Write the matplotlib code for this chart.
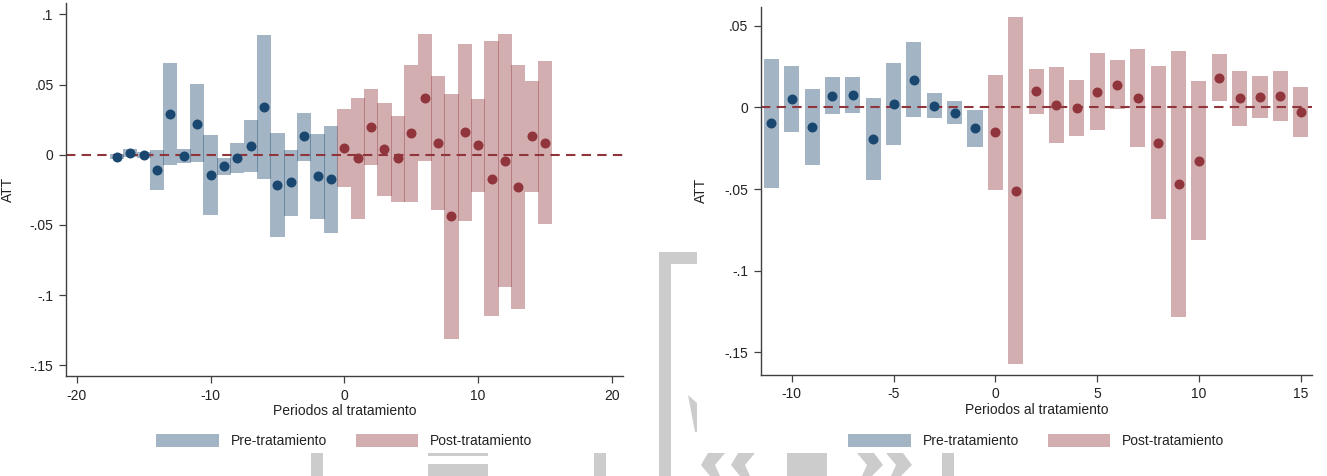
import matplotlib
matplotlib.use('Agg')
import matplotlib.pyplot as plt
from matplotlib.patches import Patch, Polygon, Rectangle

plt.rcParams['font.family'] = ['Liberation Sans', 'DejaVu Sans']
plt.rcParams['font.size'] = 10
plt.rcParams['axes.unicode_minus'] = False

NAVY = '#1a476f'
MAROON = '#90353b'
NAVY_FILL = '#a3b5c5'
MAROON_FILL = '#d3aeb1'
WATERMARK = '#cccccc'

# Panel A: all periods
a_pre_t = list(range(-17, 0))
a_pre_att = [-0.0014, 0.0014, 0.0000, -0.0107, 0.0293, -0.0007, 0.0222,
             -0.0142, -0.0083, -0.0024, 0.0064, 0.0343, -0.0215, -0.0197,
             0.0130, -0.0151, -0.0173]
a_pre_hi = [0.0005, 0.0040, 0.0020, 0.0035, 0.0656, 0.0040, 0.0502, 0.0137,
            -0.0020, 0.0080, 0.0244, 0.0854, 0.0154, 0.0035, 0.0296, 0.0147,
            0.0208]
a_pre_lo = [-0.0030, -0.0014, -0.0020, -0.0254, -0.0071, -0.0059, -0.0055,
            -0.0426, -0.0147, -0.0128, -0.0121, -0.0170, -0.0587, -0.0433,
            -0.0043, -0.0455, -0.0556]
a_post_t = list(range(0, 16))
a_post_att = [0.0050, -0.0026, 0.0194, 0.0038, -0.0026, 0.0154, 0.0407,
              0.0083, -0.0436, 0.0161, 0.0069, -0.0170, -0.0043, -0.0227,
              0.0133, 0.0087]
a_post_hi = [0.0327, 0.0403, 0.0467, 0.0367, 0.0279, 0.0639, 0.0857, 0.0559,
             0.0433, 0.0788, 0.0400, 0.0810, 0.0857, 0.0641, 0.0523, 0.0665]
a_post_lo = [-0.0232, -0.0457, -0.0076, -0.0291, -0.0336, -0.0336, -0.0045,
             -0.0396, -0.1313, -0.0469, -0.0265, -0.1151, -0.0944, -0.1099,
             -0.0263, -0.0490]
a_xticks = [-20, -10, 0, 10, 20]
a_yticks = [0.1, 0.05, 0, -0.05, -0.1, -0.15]
a_ylabels = ['.1', '.05', '0', '-.05', '-.1', '-.15']

# Panel B: restricted window
b_pre_t = list(range(-11, 0))
b_pre_att = [-0.0098, 0.0049, -0.0120, 0.0071, 0.0075, -0.0192, 0.0018,
             0.0167, 0.0010, -0.0033, -0.0129]
b_pre_hi = [0.0298, 0.0251, 0.0110, 0.0184, 0.0184, 0.0055, 0.0273, 0.0398,
            0.0088, 0.0039, -0.0016]
b_pre_lo = [-0.0496, -0.0153, -0.0351, -0.0041, -0.0037, -0.0443, -0.0233,
            -0.0061, -0.0065, -0.0104, -0.0241]
b_post_t = list(range(0, 16))
b_post_att = [-0.0151, -0.0512, 0.0098, 0.0014, -0.0004, 0.0096, 0.0139,
              0.0057, -0.0216, -0.0469, -0.0328, 0.0182, 0.0055, 0.0063,
              0.0069, -0.0029]
b_post_hi = [0.0200, 0.0551, 0.0233, 0.0247, 0.0167, 0.0330, 0.0292, 0.0357,
             0.0253, 0.0343, 0.0159, 0.0328, 0.0224, 0.0190, 0.0224, 0.0126]
b_post_lo = [-0.0506, -0.1573, -0.0041, -0.0220, -0.0175, -0.0141, -0.0012,
             -0.0245, -0.0685, -0.1285, -0.0812, 0.0039, -0.0114, -0.0063,
             -0.0086, -0.0182]
b_xticks = [-10, -5, 0, 5, 10, 15]
b_yticks = [0.05, 0, -0.05, -0.1, -0.15]
b_ylabels = ['.05', '0', '-.05', '-.1', '-.15']

W, H = 1327, 476


def px(x, y):
    # pixel position (from top-left) -> figure fraction
    return (x / W, 1 - y / H)


def add_watermark(fig):
    rects = [(659, 252, 671, 476), (671, 252, 697, 263.5),
             (311, 453, 322.7, 476), (428, 453, 488, 456),
             (428, 463.5, 488, 476), (594, 453, 606, 476),
             (787, 453, 827, 476), (942, 453, 954, 476)]
    for x0, y0, x1, y1 in rects:
        fig.add_artist(Rectangle(px(x0, y1), (x1 - x0) / W, (y1 - y0) / H,
                                 transform=fig.transFigure, color=WATERMARK,
                                 lw=0, zorder=0))
    polys = [
        [(688, 395), (697, 403), (697, 432), (695, 432)],
        [(708, 453), (725, 453), (715, 465), (720, 476), (710, 476), (701, 465)],
        [(738, 453), (755, 453), (745, 465), (750, 476), (740, 476), (731, 465)],
        [(874, 453), (857, 453), (867, 465), (862, 476), (872, 476), (883, 465)],
        [(903, 453), (886, 453), (896, 465), (891, 476), (901, 476), (912, 465)],
    ]
    for pts in polys:
        fig.add_artist(Polygon([px(x, y) for x, y in pts], closed=True,
                               transform=fig.transFigure, color=WATERMARK,
                               lw=0, zorder=0))


def event_panel(ax, pre, post, width, xlim, ylim, xticks, yticks, ylabels,
                ylabel_x):
    for (t, att, lo, hi), dot in ((pre, NAVY), (post, MAROON)):
        heights = [h - l for h, l in zip(hi, lo)]
        # overlapping neighbours leave a darker seam between adjacent bars
        ax.bar(t, heights, bottom=lo, width=width, color=dot, alpha=0.4,
               lw=0, zorder=1)
        ax.plot(t, att, 'o', color=dot, ms=7.2, mew=0, zorder=3)
    ax.axhline(0, color=MAROON, lw=1.5, ls=(0, (4.5, 3)), zorder=2)
    ax.set_xlim(*xlim)
    ax.set_ylim(*ylim)
    ax.set_xticks(xticks)
    ax.set_yticks(yticks)
    ax.set_yticklabels(ylabels)
    for side in ('top', 'right'):
        ax.spines[side].set_visible(False)
    for side in ('left', 'bottom'):
        ax.spines[side].set_color('#404040')
        ax.spines[side].set_linewidth(1.0)
    ax.tick_params(length=5, width=0.9, color='#404040', labelcolor='#222222',
                   labelsize=10, pad=4)
    ax.set_xlabel('Periodos al tratamiento', labelpad=1, color='#222222')
    ax.set_ylabel('ATT', color='#222222')
    ax.yaxis.set_label_coords(ylabel_x, 0.5)
    handles = [Patch(color=NAVY_FILL, lw=0), Patch(color=MAROON_FILL, lw=0)]
    pos = ax.get_position()
    ax.figure.legend(handles, ['Pre-tratamiento', 'Post-tratamiento'],
                     loc='center', ncol=2, frameon=False, fontsize=10,
                     bbox_to_anchor=((pos.x0 + pos.x1) / 2, 1 - 441 / H),
                     handlelength=4.5, handleheight=1.15, handletextpad=0.85,
                     columnspacing=2.1, labelcolor='#222222')


fig = plt.figure(figsize=(W / 100, H / 100), dpi=100)
add_watermark(fig)

ax1 = fig.add_axes([66 / W, 1 - 376 / H, (622.7 - 66) / W, (376 - 3.5) / H])
event_panel(ax1, (a_pre_t, a_pre_att, a_pre_lo, a_pre_hi),
            (a_post_t, a_post_att, a_post_lo, a_post_hi),
            1.06, (-20.8, 20.8), (-0.1576, 0.1077),
            a_xticks, a_yticks, a_ylabels, -0.092)

ax2 = fig.add_axes([761 / W, 1 - 375 / H, (1311.7 - 761) / W, (375 - 6.7) / H])
event_panel(ax2, (b_pre_t, b_pre_att, b_pre_lo, b_pre_hi),
            (b_post_t, b_post_att, b_post_lo, b_post_hi),
            0.74, (-11.51, 15.54), (-0.1638, 0.0616),
            b_xticks, b_yticks, b_ylabels, -0.096)

fig.savefig('out.png', dpi=100, facecolor='white')
